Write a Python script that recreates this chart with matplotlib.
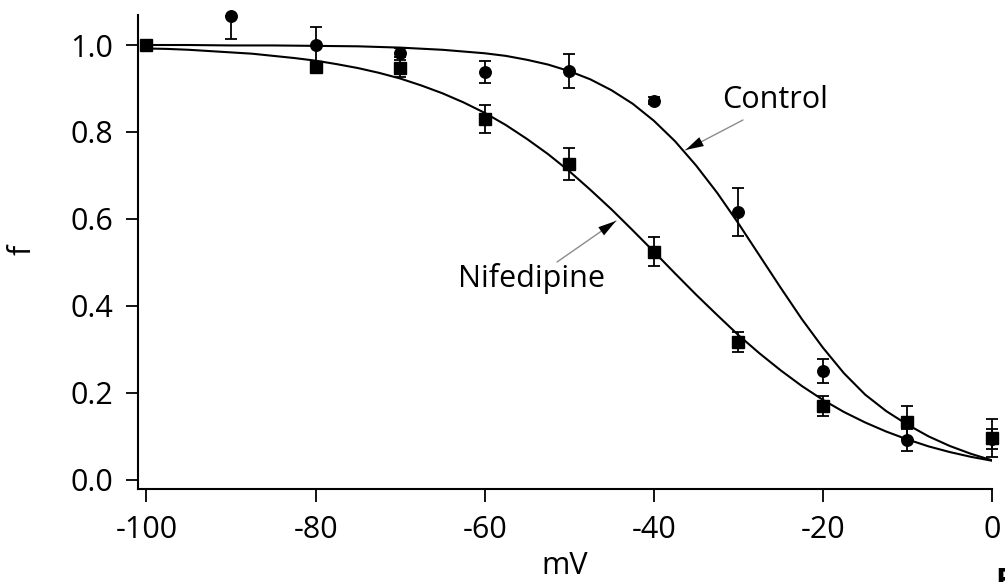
import matplotlib
matplotlib.use("Agg")
import matplotlib.pyplot as plt

plt.rcParams['font.family'] = ['Open Sans', 'DejaVu Sans']
plt.rcParams['axes.unicode_minus'] = False

# measured points (mV, fraction) with error bars
ctrl_v = [-100, -90, -80, -70, -60, -50, -40, -30, -20, -10, 0]
ctrl_f = [1.0, 1.067, 1.0, 0.982, 0.938, 0.940, 0.872, 0.616, 0.251, 0.092, 0.094]
ctrl_lo = [0.0, 0.053, 0.041, 0.01, 0.026, 0.039, 0.008, 0.056, 0.028, 0.025, 0.023]
ctrl_hi = [0.0, 0.0, 0.041, 0.01, 0.026, 0.039, 0.008, 0.056, 0.028, 0.025, 0.023]

nif_v = [-100, -80, -70, -60, -50, -40, -30, -20, -10, 0]
nif_f = [1.0, 0.950, 0.946, 0.830, 0.726, 0.525, 0.317, 0.170, 0.132, 0.096]
nif_err = [0.0, 0.005, 0.02, 0.032, 0.037, 0.033, 0.024, 0.022, 0.037, 0.043]

# fitted curves
ctrl_curve_v = [-100, -95, -90, -85, -80, -75, -70, -65, -60, -57.5, -55, -52.5,
                -50, -47.5, -45, -42.5, -40, -37.5, -35, -32.5, -30, -27.5, -25,
                -22.5, -20, -17.5, -15, -12.5, -10, -7.5, -5, -2.5, 0]
ctrl_fit = [1.000, 1.000, 0.999, 0.999, 0.998, 0.997, 0.994, 0.989, 0.981, 0.975, 0.966, 0.955,
            0.940, 0.921, 0.896, 0.865, 0.826, 0.779, 0.723, 0.660, 0.590, 0.516, 0.442,
            0.370, 0.304, 0.245, 0.196, 0.158, 0.127, 0.100, 0.078, 0.060, 0.045]

nif_curve_v = [-100, -97.5, -95, -92.5, -90, -87.5, -85, -82.5, -80, -77.5, -75, -72.5,
               -70, -67.5, -65, -62.5, -60, -57.5, -55, -52.5, -50, -47.5, -45, -42.5,
               -40, -37.5, -35, -32.5, -30, -27.5, -25, -22.5, -20, -17.5, -15, -12.5,
               -10, -7.5, -5, -2.5, 0]
nif_fit = [0.992, 0.991, 0.989, 0.986, 0.983, 0.980, 0.975, 0.970, 0.964, 0.956, 0.947, 0.936,
           0.923, 0.907, 0.889, 0.868, 0.844, 0.816, 0.784, 0.749, 0.710, 0.667, 0.622, 0.574,
           0.525, 0.475, 0.426, 0.379, 0.333, 0.291, 0.252, 0.216, 0.184, 0.156, 0.132, 0.111,
           0.093, 0.077, 0.064, 0.053, 0.044]

xticks = [-100, -80, -60, -40, -20, 0]
yticks = [0.0, 0.2, 0.4, 0.6, 0.8, 1.0]

fig = plt.figure(figsize=(10.05, 5.82), dpi=100)
ax = fig.add_axes([138/1005, 93/582, 854/1005, 474/582])

ax.plot(ctrl_curve_v, ctrl_fit, color='black', lw=1.5)
ax.plot(nif_curve_v, nif_fit, color='black', lw=1.5)

eb1 = ax.errorbar(ctrl_v, ctrl_f, yerr=[ctrl_lo, ctrl_hi], fmt='o', color='black',
                  ms=8.3, capsize=4, elinewidth=1.3, capthick=1.3)
eb2 = ax.errorbar(nif_v, nif_f, yerr=nif_err, fmt='s', color='black',
                  ms=8.0, capsize=4, elinewidth=1.3, capthick=1.3)
for eb in (eb1, eb2):
    for a in eb.get_children():
        a.set_clip_on(False)

ax.set_xlim(-101.0, 0)
ax.set_ylim(-0.021, 1.069)
ax.set_xticks(xticks)
ax.set_xticklabels([str(t) for t in xticks])
ax.set_yticks(yticks)
ax.set_yticklabels(['%.1f' % t for t in yticks])
ax.spines['top'].set_visible(False)
ax.spines['right'].set_visible(False)
for s in ('left', 'bottom'):
    ax.spines[s].set_linewidth(1.5)
ax.tick_params(direction='out', length=9, width=1.3, labelsize=22)
ax.tick_params(axis='x', pad=10)
ax.tick_params(axis='y', pad=9)

ax.set_xlabel('mV', fontsize=22, labelpad=4)
fig.text(22/1005, 1 - 250/582, 'f', rotation=90, ha='center', va='center', fontsize=22)

ax.text(-31.96, 0.8736, 'Control', fontsize=22, ha='left', va='center')
ax.text(-63.13, 0.464, 'Nifedipine', fontsize=22, ha='left', va='center')

for start, tip in [((-29.45, 0.8276), (-36.24, 0.7586)), ((-51.44, 0.501), (-44.47, 0.5954))]:
    ax.annotate('', xy=tip, xytext=start,
                arrowprops=dict(arrowstyle='-', color='0.55', lw=1, shrinkA=0, shrinkB=0))
    ax.annotate('', xy=tip, xytext=start,
                arrowprops=dict(arrowstyle='-|>,head_length=0.65,head_width=0.18', color='black',
                                lw=0, mutation_scale=20, shrinkA=0, shrinkB=0))

# edge of the next panel label, cut off by the crop
fig.text(995/1005, 1 - 567/582, 'E', fontsize=22, fontweight='bold', ha='left', va='top')

fig.savefig('out.png', dpi=100)
